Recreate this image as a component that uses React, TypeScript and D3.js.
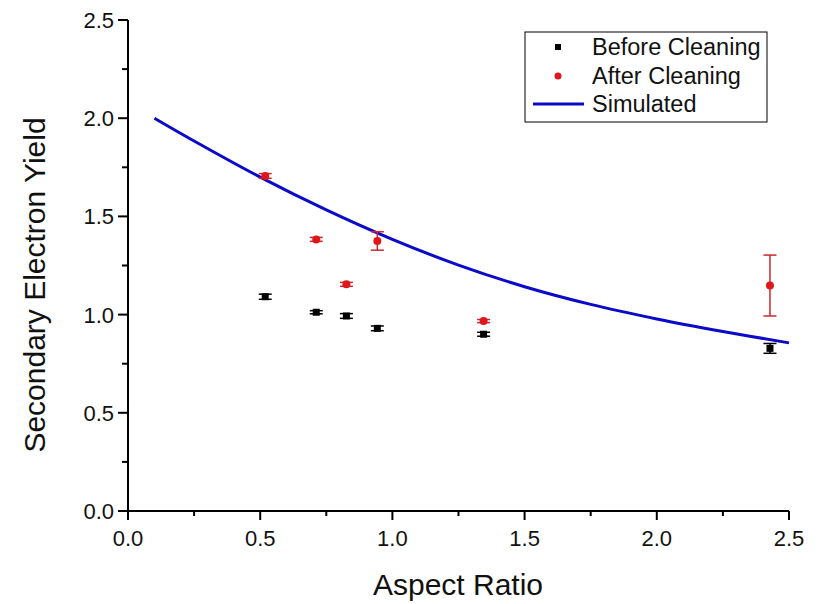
import React from "react";
import * as d3 from "d3";

const beforeX = [0.519, 0.712, 0.826, 0.943, 1.345, 2.428];
const beforeY = [1.091, 1.012, 0.993, 0.930, 0.900, 0.828];
const beforeErr = [0.013, 0.008, 0.012, 0.012, 0.01, 0.025];

const afterX = [0.519, 0.712, 0.826, 0.943, 1.345, 2.428];
const afterY = [1.706, 1.383, 1.154, 1.375, 0.967, 1.148];
const afterErr = [0.012, 0.01, 0.01, 0.047, 0.008, 0.155];

const simX = [0.1, 0.25, 0.5, 0.75, 1.0, 1.25, 1.5, 1.75, 2.0, 2.25, 2.5];
const simY = [2.0, 1.884, 1.70, 1.533, 1.383, 1.252, 1.142, 1.052, 0.978, 0.914, 0.856];

const xTicks = [0, 0.5, 1.0, 1.5, 2.0, 2.5];
const yTicks = [0, 0.5, 1.0, 1.5, 2.0, 2.5];
const legendLabels = ["Before Cleaning", "After Cleaning", "Simulated"];

const W = 823, H = 604;
const x = d3.scaleLinear().domain([0, 2.5]).range([128, 789]);
const y = d3.scaleLinear().domain([0, 2.5]).range([511, 20]);
const FONT = "Liberation Sans, Arial, sans-serif";
const RED = "#e0161a";
const REDBAR = "#c8282c";
const BLUE = "#0a0ac8";

export default function App() {
  const line = d3.line<number>().x((_, i) => x(simX[i])).y((d) => y(d)).curve(d3.curveCatmullRom);
  const minorX = d3.range(0.25, 2.5, 0.5);
  const minorY = d3.range(0.25, 2.5, 0.5);
  const errBar = (cx: number, cy: number, e: number, color: string, key: string) => {
    const px = x(cx), top = y(cy + e), bot = y(cy - e);
    return (
      <g key={key} stroke={color} strokeWidth={1.5}>
        <line x1={px} x2={px} y1={top} y2={bot} />
        <line x1={px - 6.5} x2={px + 6.5} y1={top} y2={top} />
        <line x1={px - 6.5} x2={px + 6.5} y1={bot} y2={bot} />
      </g>
    );
  };
  return (
    <svg width={W} height={H} style={{ position: "absolute", left: 0, top: 0, background: "#fff" }} fontFamily={FONT}>
      <rect width={W} height={H} fill="#fff" />
      <path d={line(simY) || ""} fill="none" stroke={BLUE} strokeWidth={3} />
      {beforeX.map((bx, i) => errBar(bx, beforeY[i], beforeErr[i], "#000", "be" + i))}
      {beforeX.map((bx, i) => (
        <rect key={"b" + i} x={x(bx) - 3.5} y={y(beforeY[i]) - 3.5} width={7} height={7} fill="#000" />
      ))}
      {afterX.map((ax, i) => errBar(ax, afterY[i], afterErr[i], REDBAR, "ae" + i))}
      {afterX.map((ax, i) => (
        <circle key={"a" + i} cx={x(ax)} cy={y(afterY[i])} r={4} fill={RED} />
      ))}
      <g stroke="#000" strokeWidth={2}>
        <line x1={x(0)} x2={x(2.5)} y1={y(0)} y2={y(0)} />
        <line x1={x(0)} x2={x(0)} y1={y(0) + 1} y2={y(2.5)} />
        {xTicks.map((t) => (
          <line key={"xt" + t} x1={x(t)} x2={x(t)} y1={y(0)} y2={y(0) + 9} />
        ))}
        {minorX.map((t) => (
          <line key={"xm" + t} x1={x(t)} x2={x(t)} y1={y(0)} y2={y(0) + 5} />
        ))}
        {yTicks.map((t) => (
          <line key={"yt" + t} x1={x(0) - 10} x2={x(0)} y1={y(t)} y2={y(t)} />
        ))}
        {minorY.map((t) => (
          <line key={"ym" + t} x1={x(0) - 6} x2={x(0)} y1={y(t)} y2={y(t)} />
        ))}
      </g>
      {xTicks.map((t) => (
        <text key={"xl" + t} x={x(t)} y={546} textAnchor="middle" fontSize={22} fill="#111">
          {t.toFixed(1)}
        </text>
      ))}
      {yTicks.map((t) => (
        <text key={"yl" + t} x={114} y={y(t) + 8} textAnchor="end" fontSize={22} fill="#111">
          {t.toFixed(1)}
        </text>
      ))}
      <text x={458} y={595} textAnchor="middle" fontSize={30} fill="#111">Aspect Ratio</text>
      <text transform={`translate(45,${285}) rotate(-90)`} textAnchor="middle" fontSize={30} fill="#111">
        Secondary Electron Yield
      </text>
      <rect x={525} y={32} width={242} height={90} fill="#fff" stroke="#000" strokeWidth={1} />
      <rect x={555} y={44} width={6} height={6} fill="#000" />
      <circle cx={558} cy={76} r={3.5} fill={RED} />
      <line x1={533} x2={584} y1={104} y2={104} stroke={BLUE} strokeWidth={3} />
      {legendLabels.map((l, i) => (
        <text key={l} x={592} y={55 + i * 28.5} fontSize={23.5} fill="#111">{l}</text>
      ))}
    </svg>
  );
}
